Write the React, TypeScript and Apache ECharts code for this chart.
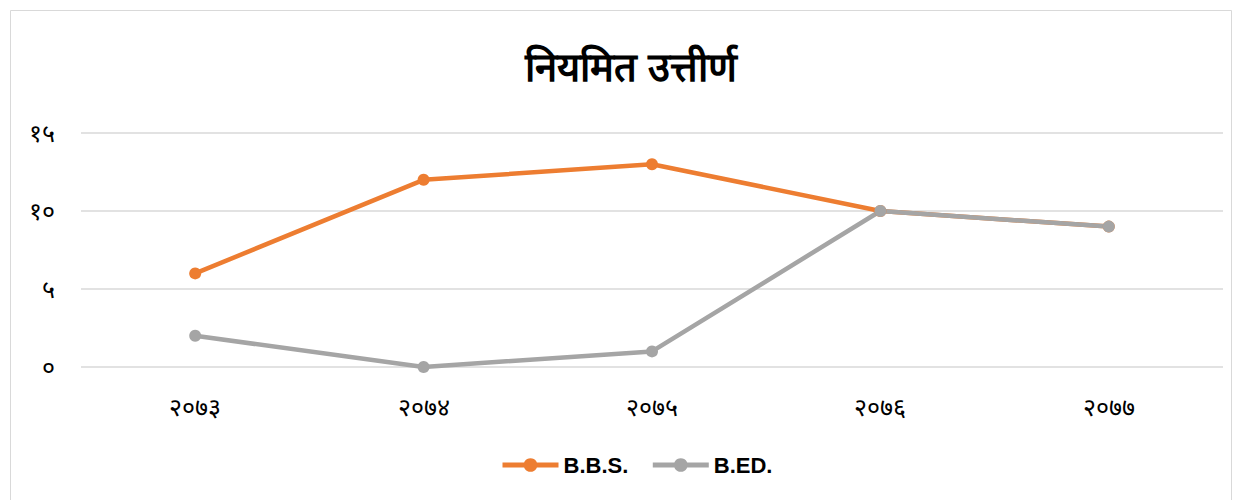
import React, { useEffect, useRef } from "react";
import * as echarts from "echarts";

const titleText = "नियमित उत्तीर्ण";
const categories = ["२०७३", "२०७४", "२०७५", "२०७६", "२०७७"];
const bbsValues = [6, 12, 13, 10, 9];
const bedValues = [2, 0, 1, 10, 9];
const yTickLabels = ["०", "५", "१०", "१५"];
const seriesNames = ["B.B.S.", "B.ED."];

export default function App() {
  const ref = useRef<HTMLDivElement>(null);
  useEffect(() => {
    const chart = echarts.init(ref.current!, null, { renderer: "svg" });
    chart.setOption({
      animation: false,
      backgroundColor: "#ffffff",
      graphic: [
        {
          type: "rect",
          shape: { x: 10.5, y: 10.5, width: 1221, height: 500 },
          style: { fill: "none", stroke: "#d9d9d9", lineWidth: 1 },
          silent: true,
        },
      ],
      title: {
        text: titleText,
        left: 626,
        textAlign: "center",
        top: 42,
        textStyle: { fontSize: 40, fontWeight: "bold", color: "#000", fontFamily: "sans-serif" },
      },
      legend: {
        bottom: 19,
        left: 495,
        itemWidth: 56,
        itemHeight: 17,
        itemGap: 22,
        lineStyle: { width: 5 },
        textStyle: { fontSize: 22, fontWeight: "bold", color: "#000", fontFamily: "Liberation Sans, Arial, sans-serif" },
        data: seriesNames,
      },
      grid: { left: 81, right: 19, top: 133, bottom: 133, containLabel: false },
      xAxis: {
        type: "category",
        data: categories,
        boundaryGap: true,
        axisLine: { show: false },
        axisTick: { show: false },
        axisLabel: { fontSize: 25, color: "#000", margin: 27 },
      },
      yAxis: {
        type: "value",
        min: 0,
        max: 15,
        interval: 5,
        axisLine: { show: false },
        axisTick: { show: false },
        splitLine: { lineStyle: { color: "#d9d9d9", width: 1.5 } },
        axisLabel: {
          fontSize: 25,
          color: "#000",
          margin: 26,
          formatter: (v: number) => yTickLabels[Math.round(v / 5)] ?? String(v),
        },
      },
      series: [
        {
          name: seriesNames[0],
          type: "line",
          data: bbsValues,
          symbol: "circle",
          symbolSize: 12,
          lineStyle: { color: "#ED7D31", width: 4.5 },
          itemStyle: { color: "#ED7D31" },
        },
        {
          name: seriesNames[1],
          type: "line",
          data: bedValues,
          symbol: "circle",
          symbolSize: 12,
          lineStyle: { color: "#A5A5A5", width: 4.5 },
          itemStyle: { color: "#A5A5A5" },
        },
      ],
    });
    return () => chart.dispose();
  }, []);
  return (
    <div
      ref={ref}
      style={{ position: "absolute", left: 0, top: 0, width: 1242, height: 500 }}
    />
  );
}
